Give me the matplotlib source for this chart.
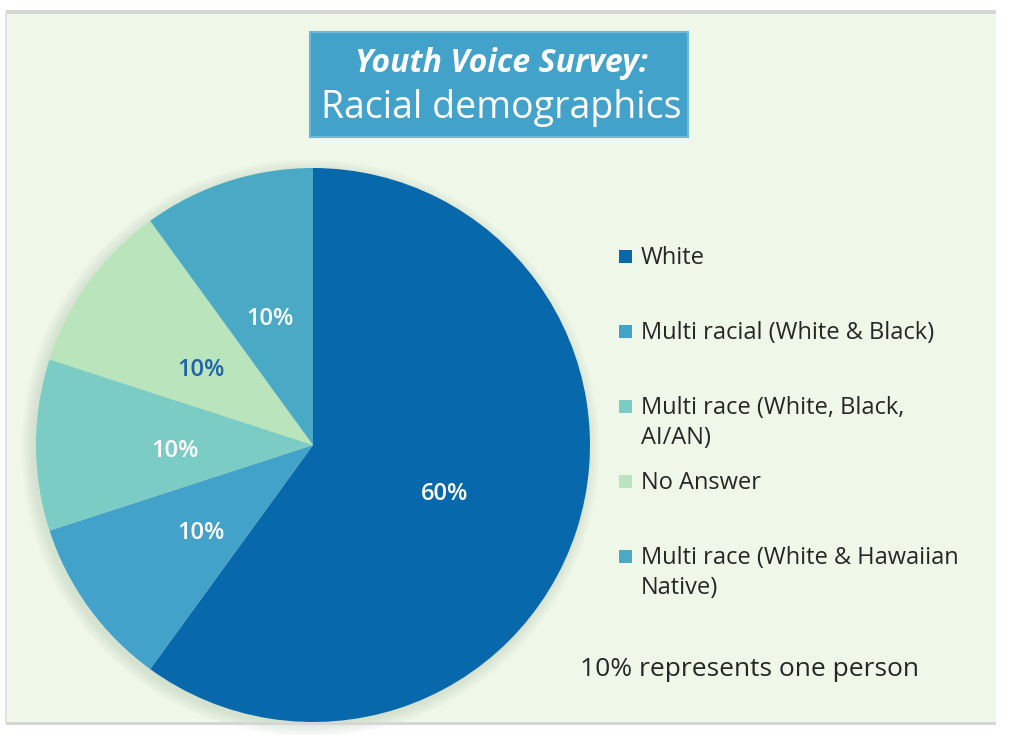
import matplotlib.pyplot as plt
from matplotlib.patches import Rectangle, Circle

# data
labels = ['White', 'Multi racial (White & Black)', 'Multi race (White, Black,\nAI/AN)',
          'No Answer', 'Multi race (White & Hawaiian\nNative)']
shares = [60, 10, 10, 10, 10]
colors = ['#0868ac', '#43a2ca', '#7bccc4', '#bae4bc', '#4aaac6']
pct_colors = ['white', 'white', 'white', '#1f64a8', 'white']

W, H = 1012, 735
plt.rcParams['font.family'] = ['Open Sans', 'DejaVu Sans']

fig = plt.figure(figsize=(W / 100, H / 100), dpi=100)
fig.patch.set_facecolor('white')

def fx(px):
    return px / W

def fy(py):
    return 1 - py / H

# chart area with grey frame lines
fig.patches.append(Rectangle((fx(6), fy(723)), fx(990), 711 / H, transform=fig.transFigure,
                             facecolor='#eff7e8', edgecolor='none', zorder=-10))
fig.patches.append(Rectangle((fx(6), fy(14)), fx(990), 4 / H, transform=fig.transFigure,
                             facecolor='#d6d6d6', edgecolor='none', zorder=-9))
fig.patches.append(Rectangle((fx(6), fy(725)), fx(990), 3 / H, transform=fig.transFigure,
                             facecolor='#d6d6d6', edgecolor='none', zorder=5))
fig.patches.append(Rectangle((fx(5), fy(723)), 2 / W, 711 / H, transform=fig.transFigure,
                             facecolor='#e2e2e2', edgecolor='none', zorder=-9))

# pie
cx, cy, R = 313, 445, 277
ax = fig.add_axes([fx(cx - R), fy(cy + R), 2 * R / W, 2 * R / H])
ax.set_facecolor('none')

# soft shadow
for k in range(8):
    ax.add_patch(Circle((-0.01, -0.012), 1 + 0.006 * k, color='#8fb08f',
                        alpha=0.035, lw=0, zorder=0, clip_on=False))

wedges, texts, autotexts = ax.pie(shares, colors=colors, startangle=90, counterclock=False,
                                  autopct='%d%%', pctdistance=0.5,
                                  wedgeprops=dict(linewidth=0))
for w in wedges:
    w.set_clip_on(False)
    w.set_zorder(2)
for t, c in zip(autotexts, pct_colors):
    x, y = t.get_position()
    t.set_position((x, y - 0.022))
    t.set_color(c)
    t.set_fontsize(17)
    t.set_fontweight('semibold')
    t.set_zorder(3)
ax.set_xlim(-1, 1)
ax.set_ylim(-1, 1)
ax.set_aspect('equal')
ax.axis('off')

# title box
fig.patches.append(Rectangle((fx(310), fy(137)), 378 / W, 105 / H, transform=fig.transFigure,
                             facecolor='#43a2ca', edgecolor='#6bb8d8', lw=1.5, zorder=2))
fig.text(fx(501), fy(64), 'Youth Voice Survey:', color='white', fontsize=23,
         fontweight='bold', style='italic', ha='center', va='center', zorder=3)
fig.text(fx(501), fy(108), 'Racial demographics', color='white', fontsize=27,
         ha='center', va='center', zorder=3)

# legend
for i, (lab, col) in enumerate(zip(labels, colors)):
    y = 256 + 75 * i
    fig.patches.append(Rectangle((fx(619), fy(y + 7)), 13 / W, 13 / H, transform=fig.transFigure,
                                 facecolor=col, edgecolor='none', zorder=2))
    fig.text(fx(641), fy(y - 10), lab, fontsize=17, color='#262626', ha='left', va='top',
             linespacing=1.36, zorder=3)

fig.text(fx(580), fy(669), '10% represents one person', fontsize=19, color='#262626',
         ha='left', va='center')

fig.savefig('out.png', dpi=100, facecolor=fig.get_facecolor())
